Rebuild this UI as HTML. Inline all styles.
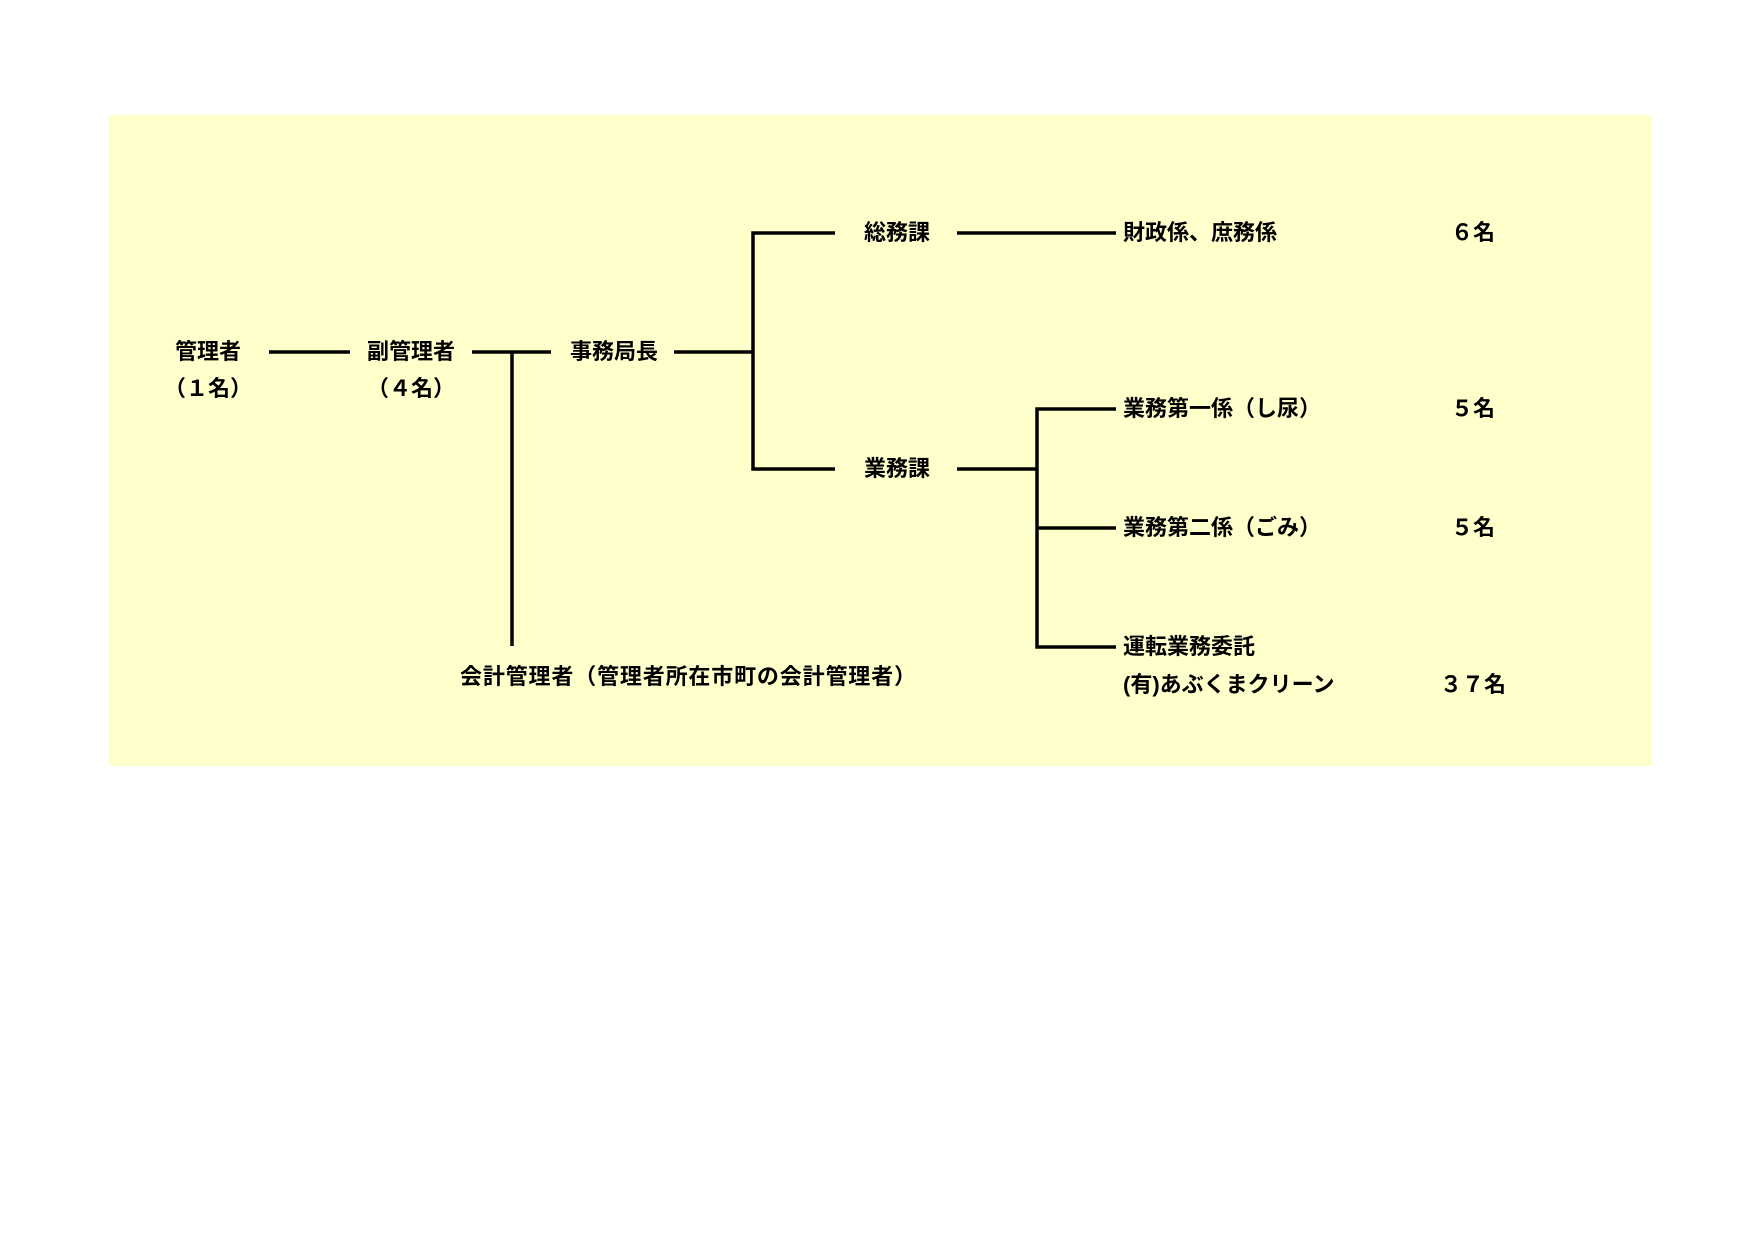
<!DOCTYPE html>
<html><head><meta charset="utf-8"><style>
html,body{margin:0;padding:0;background:#fff;}
svg{display:block;}
text{font-family:"Liberation Sans","Noto Sans CJK JP",sans-serif;font-weight:bold;font-size:22px;fill:#000;}
</style></head><body>
<svg width="1755" height="1241" viewBox="0 0 1755 1241" xmlns="http://www.w3.org/2000/svg">
<rect x="109" y="115" width="1543" height="651" fill="#ffffcc"/>
<g stroke="#000" stroke-width="3.5" fill="none">
<line x1="269" y1="352" x2="350" y2="352"/>
<line x1="472" y1="352" x2="551" y2="352"/>
<line x1="512" y1="352" x2="512" y2="646"/>
<line x1="674" y1="352" x2="753" y2="352"/>
<polyline points="835,233 753,233 753,469 835,469"/>
<line x1="957" y1="233" x2="1116" y2="233"/>
<line x1="957" y1="469" x2="1037" y2="469"/>
<polyline points="1116,409 1037,409 1037,647 1116,647"/>
<line x1="1037" y1="528" x2="1116" y2="528"/>
</g>
<g text-anchor="middle">
<text x="208" y="359">管理者</text>
<text x="208" y="396">（１名）</text>
<text x="411" y="359">副管理者</text>
<text x="411" y="396">（４名）</text>
<text x="614" y="359">事務局長</text>
<text x="897" y="240">総務課</text>
<text x="897" y="476">業務課</text>
<text x="1473" y="240">６名</text>
<text x="1473" y="416">５名</text>
<text x="1473" y="535">５名</text>
<text x="1473" y="692">３７名</text>
</g>
<text x="1123" y="240">財政係、庶務係</text>
<text x="1123" y="416">業務第一係（し尿）</text>
<text x="1123" y="535">業務第二係（ごみ）</text>
<text x="1123" y="654">運転業務委託</text>
<text x="1123" y="692">(有)あぶくまクリーン</text>
<text x="460" y="684" textLength="456">会計管理者（管理者所在市町の会計管理者）</text>
</svg>
</body></html>
